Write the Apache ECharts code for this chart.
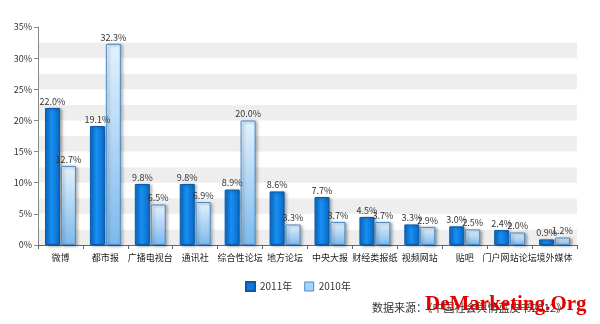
<!DOCTYPE html>
<html><head><meta charset="utf-8">
<script src="https://cdn.jsdelivr.net/npm/echarts@6/dist/echarts.min.js"></script>
<style>html,body{margin:0;padding:0;background:#fff}#c{width:600px;height:324px}</style>
</head><body><div id="c"></div>
<script>
const categories = ['微博','都市报','广播电视台','通讯社','综合性论坛','地方论坛','中央大报','财经类报纸','视频网站','贴吧','门户网站论坛','境外媒体'];
const values2011 = [22.0,19.1,9.8,9.8,8.9,8.6,7.7,4.5,3.3,3.0,2.4,0.9];
const values2010 = [12.7,32.3,6.5,6.9,20.0,3.3,3.7,3.7,2.9,2.5,2.0,1.2];
const seriesNames = ['2011年','2010年'];

const chart = echarts.init(document.getElementById('c'));
const font = '"Noto Sans CJK SC", sans-serif';
const darkFill = new echarts.graphic.LinearGradient(0,0,1,0,[
  {offset:0,color:'#0a6fd0'},{offset:0.45,color:'#1890f2'},{offset:1,color:'#0866c4'}]);
const lightFill = new echarts.graphic.LinearGradient(0,0,0,1,[
  {offset:0,color:'#e4f2fd'},{offset:1,color:'#7db9ec'}]);
const lbl = {show:true,position:'top',distance:2,fontSize:9,color:'#333',fontFamily:font,
  formatter:p=>p.value.toFixed(1)+'%'};
chart.setOption({
  animation:false,
  grid:{left:38,right:23,top:27,bottom:79},
  legend:{left:240,top:276,itemWidth:9,itemHeight:9,itemGap:12,
    textStyle:{fontSize:10,color:'#333',fontFamily:font},
    data:[{name:seriesNames[0],icon:'rect',itemStyle:{color:'#0a7ae0'}},
      {name:seriesNames[1],icon:'rect',itemStyle:{color:'#a8d2f5',borderColor:'#4a8cc8',borderWidth:1}}]},
  xAxis:{type:'category',data:categories,
    axisLine:{lineStyle:{color:'#666'}},
    axisTick:{show:true,alignWithLabel:false,length:4,lineStyle:{color:'#666'}},
    axisLabel:{fontSize:9,color:'#222',fontFamily:font,interval:0,margin:8}},
  yAxis:[{type:'value',min:0,max:35,interval:5,
    axisLine:{show:true,lineStyle:{color:'#888'}},
    axisTick:{show:true,length:4,lineStyle:{color:'#888'}},
    axisLabel:{fontSize:9,color:'#333',fontFamily:font,formatter:v=>v+'%',margin:6},
    splitLine:{show:false}},
   {type:'value',min:0,max:35,interval:2.5,show:true,position:'left',
    axisLine:{show:false},axisTick:{show:false},axisLabel:{show:false},
    splitLine:{show:false},
    splitArea:{show:true,areaStyle:{color:['#eeeeee','#ffffff']}}}],
  series:[
    {name:seriesNames[0],type:'bar',data:values2011,barWidth:15,barGap:'6%',
     itemStyle:{color:darkFill,borderColor:'#0a58a8',borderWidth:1,
       shadowColor:'rgba(0,0,0,0.35)',shadowBlur:3,shadowOffsetX:2,shadowOffsetY:1},
     label:lbl},
    {name:seriesNames[1],type:'bar',data:values2010,barWidth:15,
     itemStyle:{color:lightFill,borderColor:'#4a8cc8',borderWidth:1,
       shadowColor:'rgba(0,0,0,0.35)',shadowBlur:3,shadowOffsetX:2,shadowOffsetY:1},
     label:lbl}
  ],
  graphic:[
    {type:'text',left:372,top:302,style:{text:'数据来源：《中国社会舆情蓝皮书2012》',fontSize:11,fill:'#333',fontFamily:font}},
    {type:'text',left:425,top:294,style:{text:'DeMarketing.Org',fontSize:21,fontWeight:'bold',fill:'#e00000',fontFamily:'"Liberation Serif", serif'}}
  ]
});
</script></body></html>
